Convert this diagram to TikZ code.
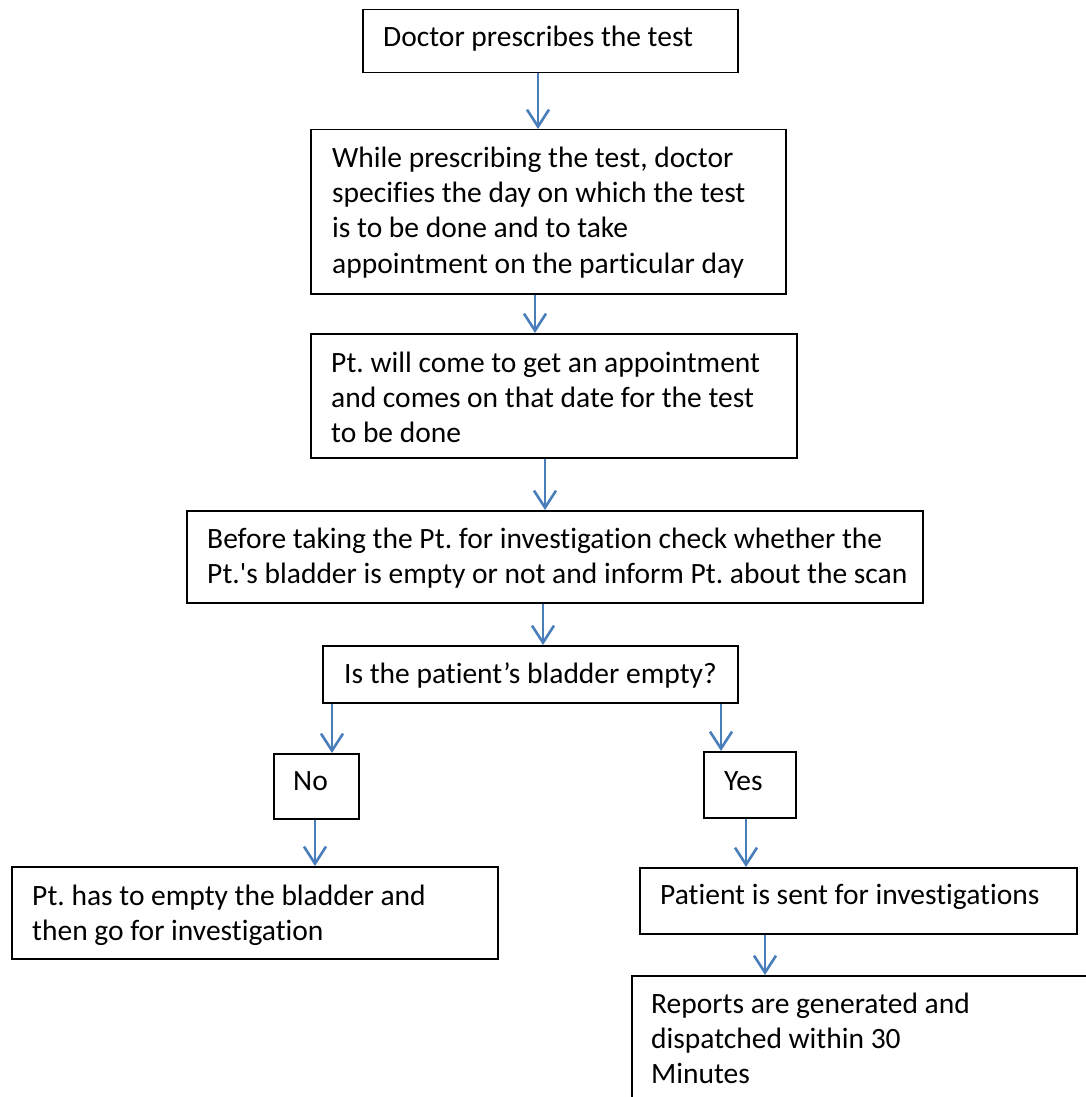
\documentclass[tikz,border=0pt]{standalone}
\usepackage{fontspec}
\setmainfont{Carlito}[Ligatures={TeX,NoCommon}]
\usetikzlibrary{arrows.meta}
\definecolor{flowblue}{HTML}{4A7EBB}
\frenchspacing
\begin{document}
\begin{tikzpicture}[x=1pt,y=-1pt,
  box/.style={draw=black, line width=1.5pt, anchor=north west, inner sep=0pt, rectangle},
  txt/.style={anchor=base west, inner sep=0pt, font=\fontsize{29.5}{35.4}\selectfont},
  flow/.style={draw=flowblue, line width=2.6pt, -{Straight Barb[length=17pt,width=22pt]}}]
\useasboundingbox (0,0) rectangle (1086,1097);
\clip (0,0) rectangle (1086,1097);

% boxes (top-left corner, size)
\node[box, minimum width=375pt, minimum height=63pt]  (b1)  at (362,9)   {};
\node[box, minimum width=475pt, minimum height=164pt] (b2)  at (310,129) {};
\node[box, minimum width=486pt, minimum height=124pt] (b3)  at (310,333) {};
\node[box, minimum width=736pt, minimum height=92pt]  (b4)  at (186,510) {};
\node[box, minimum width=415pt, minimum height=57pt]  (b5)  at (322,645) {};
\node[box, minimum width=85pt,  minimum height=65pt]  (no)  at (273,753) {};
\node[box, minimum width=92pt,  minimum height=66pt]  (yes) at (703,751) {};
\node[box, minimum width=486pt, minimum height=92pt]  (bl)  at (11,866)  {};
\node[box, minimum width=437pt, minimum height=66pt]  (bp)  at (639,867) {};
\node[box, minimum width=480pt, minimum height=140pt] (br)  at (631,975) {};

% texts
\node[txt] (t1) at (383,47) {Doctor prescribes the test};
\node[txt] (t2) at (332,167) {\begin{tabular}[t]{@{}l@{}}While prescribing the test, doctor\\
  specifies the day on which the test\\ is to be done and to take\\
  appointment on the particular day\end{tabular}};
\node[txt] (t3) at (331,372) {\begin{tabular}[t]{@{}l@{}}Pt. will come to get an appointment\\
  and comes on that date for the test\\ to be done\end{tabular}};
\node[txt] (t4) at (207,548) {\begin{tabular}[t]{@{}l@{}}Before taking the Pt. for investigation check whether the\\
  Pt.\textquotesingle s bladder is empty or not and inform Pt. about the scan\end{tabular}};
\node[txt] (t5) at (344,683) {Is the patient’s bladder empty?};
\node[txt] (tno) at (293,790) {No};
\node[txt] (tyes) at (724,790) {Yes};
\node[txt] (tl) at (32,905) {\begin{tabular}[t]{@{}l@{}}Pt. has to empty the bladder and\\
  then go for investigation\end{tabular}};
\node[txt] (tp) at (660,904) {Patient is sent for investigations};
\node[txt] (tr) at (651,1013) {\begin{tabular}[t]{@{}l@{}}Reports are generated and\\
  dispatched within 30\\ Minutes\end{tabular}};

% connector columns
\coordinate (x1) at (538,0);
\coordinate (x2) at (535,0);
\coordinate (x3) at (545,0);
\coordinate (x4) at (543,0);
\coordinate (x5) at (332,0);
\coordinate (x6) at (721,0);
\coordinate (x7) at (315,0);
\coordinate (x8) at (746,0);
\coordinate (x9) at (765,0);

\draw[flow] (b1.south -| x1) -- (b2.north -| x1);
\draw[flow] (b2.south -| x2) -- (b3.north -| x2);
\draw[flow] (b3.south -| x3) -- (b4.north -| x3);
\draw[flow] (b4.south -| x4) -- (b5.north -| x4);
\draw[flow] (b5.south -| x5) -- (no.north -| x5);
\draw[flow] (b5.south -| x6) -- (yes.north -| x6);
\draw[flow] (no.south -| x7) -- (bl.north -| x7);
\draw[flow] (yes.south -| x8) -- (bp.north -| x8);
\draw[flow] (bp.south -| x9) -- (br.north -| x9);
\end{tikzpicture}
\end{document}
